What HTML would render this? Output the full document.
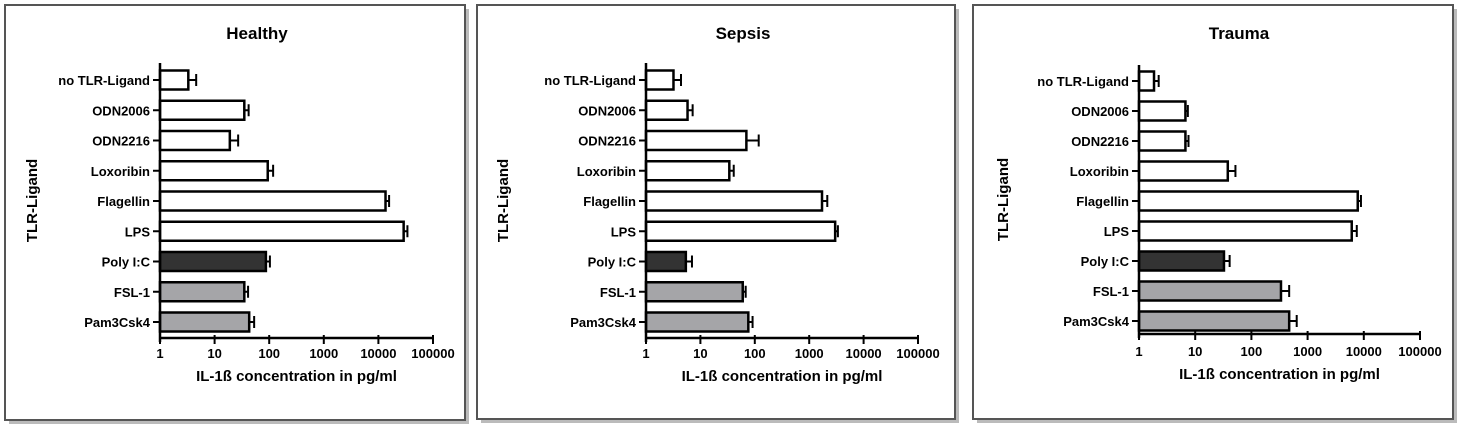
<!DOCTYPE html>
<html><head><meta charset="utf-8"><style>
html,body{margin:0;padding:0;background:#fff;width:1468px;height:434px;overflow:hidden}
svg{display:block;font-family:"Liberation Sans",Arial,sans-serif}
</style></head><body>
<svg id="c" width="1468" height="434"></svg>
<script>
const categories=["no TLR-Ligand","ODN2006","ODN2216","Loxoribin","Flagellin","LPS","Poly I:C","FSL-1","Pam3Csk4"];
const fills=["#fff","#fff","#fff","#fff","#fff","#fff","#333","#a5a5a8","#a5a5a8"];
const tickLabels=["1","10","100","1000","10000","100000"];
const tickValues=[1,10,100,1000,10000,100000];
const healthyValues=[3.3,35,19,94,13500,29000,87,35,43];
const healthyErrors=[4.6,42,27,118,15700,34000,103,41,53];
const sepsisValues=[3.2,5.8,70,34,1720,3000,5.4,60,76];
const sepsisErrors=[4.4,7.2,118,41,2150,3370,7.0,68,91];
const traumaValues=[1.85,6.7,6.7,38,7800,6100,32.5,336,470];
const traumaErrors=[2.24,7.4,7.6,52,8900,7500,41,470,640];
const titles=["Healthy","Sepsis","Trauma"];
const panels=[
 {fx:5,fw:460,fy:5,fh:415,x0:160,x1:433,yTop:63,xAx:338,c0:80,c1:322,tx:257,ytx:32,tickY:358,titleY:381,vals:healthyValues,errs:healthyErrors},
 {fx:477,fw:478,fy:5,fh:414,x0:646,x1:918,yTop:63,xAx:338,c0:80,c1:322,tx:743,ytx:503,tickY:358,titleY:381,vals:sepsisValues,errs:sepsisErrors},
 {fx:973,fw:480,fy:5,fh:414,x0:1139,x1:1420,yTop:65,xAx:334,c0:81,c1:321,tx:1239,ytx:1003,tickY:356,titleY:379,vals:traumaValues,errs:traumaErrors}
];
const NS="http://www.w3.org/2000/svg";
const svg=document.getElementById('c');
function mk(tag,attrs,parent,text){const e=document.createElementNS(NS,tag);for(const k in attrs)e.setAttribute(k,attrs[k]);if(text!==undefined)e.textContent=text;(parent||svg).appendChild(e);return e;}
panels.forEach((p,pi)=>{
 const g=mk('g',{});
 
 
 const sh=mk('rect',{x:p.fx+4,y:p.fy+4,width:p.fw,height:p.fh,fill:'#bbb'},g);
 
 
 const fr=mk('rect',{x:p.fx,y:p.fy,width:p.fw,height:p.fh,fill:'#fff',stroke:'#555','stroke-width':2},g);
 
 
 const xs=v=>p.x0+(Math.log10(v)/5)*(p.x1-p.x0);
 const ys=i=>p.c0+i*(p.c1-p.c0)/(categories.length-1);
 const t=mk('text',{x:p.tx,y:p.fy+34,'text-anchor':'middle','font-size':17,'font-weight':'bold'},g,titles[pi]);
 
 
 const yt=mk('text',{x:p.ytx,y:(p.yTop+p.xAx)/2,'text-anchor':'middle','font-size':15,'font-weight':'bold',transform:`rotate(-90 ${p.ytx} ${(p.yTop+p.xAx)/2})`,dy:5},g,'TLR-Ligand');
 
 
 categories.forEach((c,i)=>{
  const y=ys(i),v=p.vals[i],e=p.errs[i];
  const tk=mk('line',{x1:p.x0-7,x2:p.x0,y1:y,y2:y,stroke:'#000','stroke-width':2},g);
  
  
  const lb=mk('text',{x:p.x0-10,y:y+5,'text-anchor':'end','font-size':13,'font-weight':'bold'},g,c);
  
  
  const b=mk('rect',{x:p.x0,y:y-9.5,width:Math.max(0,xs(v)-p.x0),height:19,fill:fills[i],stroke:'#000','stroke-width':2.5},g);
  
  
  const el=mk('path',{d:`M${xs(v)} ${y}H${xs(e)}M${xs(e)} ${y-6}V${y+6}`,stroke:'#000','stroke-width':2,fill:'none'},g);
  
  
 });
 const ya=mk('line',{x1:p.x0,x2:p.x0,y1:p.yTop,y2:p.xAx+4,stroke:'#000','stroke-width':2.5},g);
 
 
 const xa=mk('line',{x1:p.x0,x2:p.x1,y1:p.xAx,y2:p.xAx,stroke:'#000','stroke-width':2.5},g);
 
 
 tickValues.forEach((tv,i)=>{
  const x=xs(tv);
  const tk=mk('line',{x1:x,x2:x,y1:p.xAx-3,y2:p.xAx+6,stroke:'#000','stroke-width':2},g);
  
  
  const tl=mk('text',{x:x,y:p.tickY,'text-anchor':'middle','font-size':13,'font-weight':'bold'},g,tickLabels[i]);
  
  
 });
 const xt=mk('text',{x:(p.x0+p.x1)/2,y:p.titleY,'text-anchor':'middle','font-size':15,'font-weight':'bold'},g,'IL-1ß concentration in pg/ml');
 
 
});
</script>
</body></html>
